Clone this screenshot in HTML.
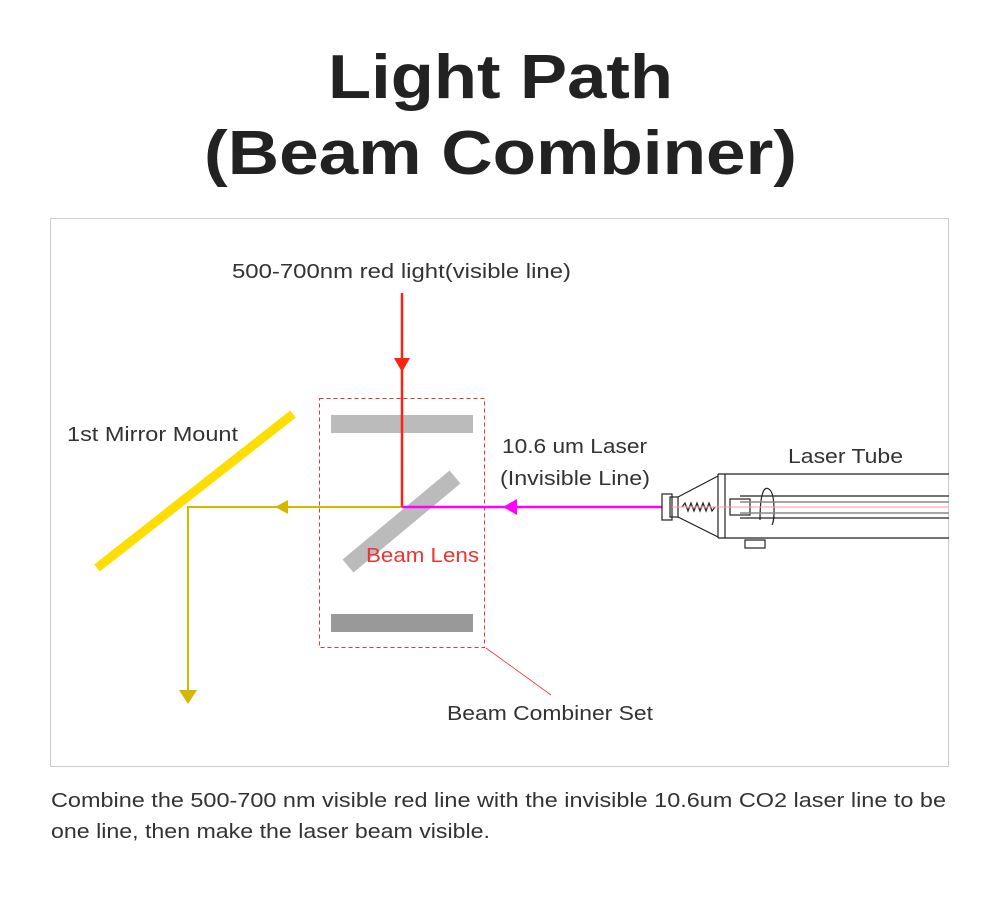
<!DOCTYPE html>
<html><head><meta charset="utf-8"><style>
html,body{margin:0;padding:0;background:#fff;width:1000px;height:899px;overflow:hidden}
svg{display:block}
</style></head><body>
<svg width="1000" height="899" viewBox="0 0 1000 899" xmlns="http://www.w3.org/2000/svg" font-family="Liberation Sans, sans-serif">
<text x="328" y="98" textLength="345" lengthAdjust="spacingAndGlyphs" font-size="62" font-weight="bold" fill="#222">Light Path</text>
<text x="204" y="174" textLength="593" lengthAdjust="spacingAndGlyphs" font-size="62" font-weight="bold" fill="#222">(Beam Combiner)</text>
<rect x="50.5" y="218.5" width="898" height="548" fill="none" stroke="#ccc"/>
<rect x="331" y="415" width="142" height="18" fill="#bbb"/>
<rect x="331" y="614" width="142" height="18" fill="#999"/>
<line x1="348" y1="566" x2="455" y2="477" stroke="#bbb" stroke-width="17"/>
<rect x="319.5" y="398.5" width="165" height="249" fill="none" stroke="#e33" stroke-dasharray="4,3"/>
<line x1="486" y1="648" x2="551" y2="695" stroke="#e33" stroke-width="0.8"/>
<line x1="97" y1="568" x2="293" y2="414" stroke="#FFDD00" stroke-width="9"/>
<polyline points="402,507 188,507 188,692" fill="none" stroke="#D4B800" stroke-width="2"/>
<polygon points="275,507 288,500 288,514" fill="#D4B800"/>
<polygon points="179,690 197,690 188,704" fill="#D4B800"/>
<line x1="402" y1="293" x2="402" y2="507" stroke="#f21" stroke-width="2.5"/>
<polygon points="394,358 410,358 402,372" fill="#f21"/>
<line x1="402" y1="507" x2="662" y2="507" stroke="#f0f" stroke-width="2.5"/>
<polygon points="503,507 517,499 517,515" fill="#f0f"/>
<g fill="none" stroke="#222" stroke-width="1.2">
<rect x="662" y="494" width="10" height="26"/>
<rect x="670" y="497" width="8" height="20"/>
<line x1="678" y1="497" x2="718" y2="476"/>
<line x1="678" y1="517" x2="718" y2="537"/>
<path d="M682 507 l3 -4 l3 8 l3 -8 l3 8 l3 -8 l3 8 l3 -8 l3 8 l3 -8 l3 8 l3 -4"/>
<line x1="718" y1="474" x2="949" y2="474"/>
<line x1="718" y1="538" x2="949" y2="538"/>
<line x1="725" y1="474" x2="725" y2="538"/>
<line x1="718" y1="474" x2="718" y2="538"/>
<line x1="740" y1="496" x2="949" y2="496"/>
<line x1="740" y1="518" x2="949" y2="518"/>
<rect x="730" y="499" width="20" height="16"/>
<path d="M760 520 C760 490 765 485 770 490 C775 495 775 520 772 525"/>
<rect x="745" y="540" width="20" height="8"/>
</g>
<line x1="740" y1="502" x2="949" y2="502" stroke="#888" stroke-width="1.5"/>
<line x1="740" y1="513" x2="949" y2="513" stroke="#888" stroke-width="1.5"/>
<line x1="672" y1="507" x2="949" y2="507" stroke="#f9a" stroke-width="1"/>
<g font-size="20" fill="#333" lengthAdjust="spacingAndGlyphs">
<text x="232" y="278" textLength="339" lengthAdjust="spacingAndGlyphs">500-700nm red light(visible line)</text>
<text x="67" y="441" textLength="171" lengthAdjust="spacingAndGlyphs">1st Mirror Mount</text>
<text x="502" y="453" textLength="145" lengthAdjust="spacingAndGlyphs">10.6 um Laser</text>
<text x="500" y="485" textLength="150" lengthAdjust="spacingAndGlyphs">(Invisible Line)</text>
<text x="788" y="463" textLength="115" lengthAdjust="spacingAndGlyphs">Laser Tube</text>
<text x="447" y="720" textLength="206" lengthAdjust="spacingAndGlyphs">Beam Combiner Set</text>
<text x="366" y="562" textLength="113" lengthAdjust="spacingAndGlyphs" fill="#e33">Beam Lens</text>
<text x="51" y="807" textLength="895" lengthAdjust="spacingAndGlyphs">Combine the 500-700 nm visible red line with the invisible 10.6um CO2 laser line to be</text>
<text x="51" y="838" textLength="439" lengthAdjust="spacingAndGlyphs">one line, then make the laser beam visible.</text>
</g>
</svg>
</body></html>
